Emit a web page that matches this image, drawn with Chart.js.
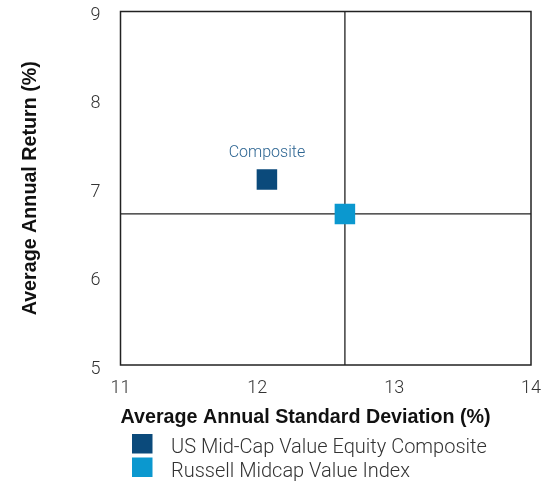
<!DOCTYPE html>
<html>
<head>
<meta charset="utf-8">
<script src="https://cdn.jsdelivr.net/npm/chart.js@4.4.0/dist/chart.umd.min.js"></script>
<style>
  html, body { margin: 0; padding: 0; background: #fff; }
  #wrap { width: 544px; height: 487px; }
</style>
</head>
<body>
<div id="wrap"><canvas id="chartRisk"></canvas></div>
<script>
const seriesNames = ['US Mid-Cap Value Equity Composite', 'Russell Midcap Value Index'];
const stdDev = [12.07, 12.64];
const annReturn = [7.10, 6.71];
const seriesColors = ['#0b4a7b', '#0b98cf'];
const xTicks = [11, 12, 13, 14];
const yTicks = [5, 6, 7, 8, 9];
const pointLabel = 'Composite';

const lightFont = 'Roboto, "Liberation Sans", sans-serif';
const boldFont = '"Liberation Sans", Arial, sans-serif';

// frame + crosshair through the index point
const framePlugin = {
  id: 'frame',
  beforeDatasetsDraw(chart) {
    const { ctx, chartArea, scales } = chart;
    const px = scales.x.getPixelForValue(stdDev[1]);
    const py = scales.y.getPixelForValue(annReturn[1]);
    ctx.save();
    ctx.strokeStyle = '#222';
    ctx.lineWidth = 1.3;
    ctx.beginPath();
    ctx.moveTo(chartArea.left, py);
    ctx.lineTo(chartArea.right, py);
    ctx.moveTo(px, chartArea.top);
    ctx.lineTo(px, chartArea.bottom);
    ctx.stroke();
    ctx.lineWidth = 1.5;
    ctx.strokeRect(chartArea.left, chartArea.top, chartArea.right - chartArea.left, chartArea.bottom - chartArea.top);
    ctx.restore();
  },
  afterDatasetsDraw(chart) {
    const { ctx } = chart;
    const pt = chart.getDatasetMeta(0).data[0];
    ctx.save();
    ctx.font = '300 16px ' + lightFont;
    ctx.fillStyle = '#2d6592';
    ctx.textAlign = 'center';
    ctx.textBaseline = 'middle';
    ctx.fillText(pointLabel, pt.x, pt.y - 26);

    // legend, one row per series
    ctx.textAlign = 'left';
    ctx.font = '300 20px ' + lightFont;
    chart.data.datasets.forEach((ds, i) => {
      const top = 434 + i * 23.5;
      ctx.fillStyle = ds.backgroundColor;
      ctx.fillRect(132, top, 20.5, 19.5);
      ctx.fillStyle = '#333';
      ctx.fillText(ds.label, 171, top + 14);
    });
    ctx.restore();
  },
};

const chartRisk = new Chart(document.getElementById('chartRisk'), {
  type: 'scatter',
  data: {
    datasets: seriesNames.map((name, i) => ({
      label: name,
      data: [{ x: stdDev[i], y: annReturn[i] }],
      backgroundColor: seriesColors[i],
      borderColor: seriesColors[i],
      borderWidth: 0,
      pointStyle: 'rect',
      pointRadius: 14.5,
      pointHoverRadius: 14.5,
    })),
  },
  options: {
    responsive: true,
    maintainAspectRatio: false,
    animation: false,
    layout: {
      autoPadding: false,
      padding: { top: 11.5, right: 13, bottom: 51, left: 0 },
    },
    plugins: {
      legend: { display: false },
      tooltip: { enabled: false },
    },
    scales: {
      x: {
        type: 'linear',
        min: xTicks[0],
        max: xTicks[xTicks.length - 1],
        afterFit: (scale) => {
          scale.height = 71;
          scale.paddingLeft = 0;
          scale.paddingRight = 0;
        },
        afterBuildTicks: (scale) => { scale.ticks = xTicks.map((v) => ({ value: v })); },
        grid: { display: false, drawTicks: false },
        border: { display: false },
        ticks: {
          padding: 13,
          color: '#333',
          font: { family: lightFont, size: 18, weight: 300 },
        },
        title: {
          display: true,
          text: 'Average Annual Standard Deviation (%)',
          align: 'start',
          color: '#111',
          padding: { top: 0, bottom: 7 },
          font: { family: boldFont, size: 19.7, weight: 'bold' },
        },
      },
      y: {
        type: 'linear',
        min: yTicks[0],
        max: yTicks[yTicks.length - 1],
        afterFit: (scale) => {
          scale.width = 120.5;
          scale.paddingTop = 0;
          scale.paddingBottom = 0;
        },
        afterBuildTicks: (scale) => { scale.ticks = yTicks.map((v) => ({ value: v })); },
        grid: { display: false, drawTicks: false },
        border: { display: false },
        ticks: {
          padding: 20,
          labelOffset: 4,
          color: '#333',
          font: { family: lightFont, size: 18, weight: 300 },
        },
        title: {
          display: true,
          text: 'Average Annual Return (%)',
          color: '#111',
          padding: { top: 18.6, bottom: 0 },
          font: { family: boldFont, size: 19.7, weight: 'bold' },
        },
      },
    },
  },
  plugins: [framePlugin],
});
</script>
</body>
</html>
